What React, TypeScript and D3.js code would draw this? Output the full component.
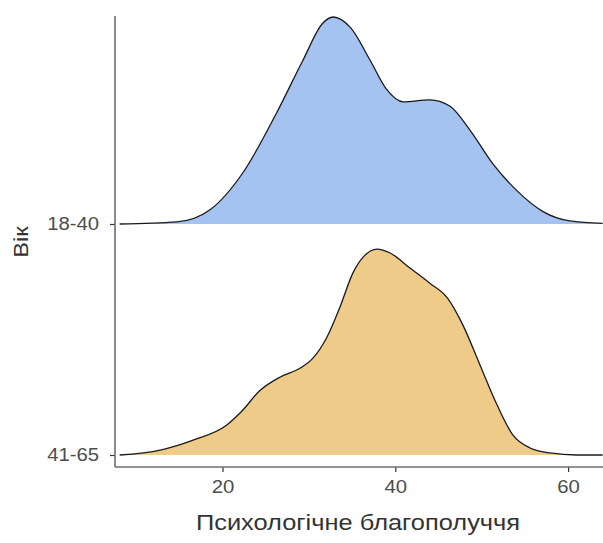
import { useRef, useEffect } from 'react';
import * as d3 from 'd3';

// x values (Психологічне благополуччя) and relative ridge heights
const youngX = [8.1, 14.7, 18.6, 22.4, 26.3, 29.3, 31.6, 32.8, 34.8, 37.1, 39.0, 40.9, 44.0, 46.3, 48.7, 51.3, 54.1, 57.1, 60.2, 64.0];
const youngY = [0, 0.01, 0.07, 0.25, 0.54, 0.79, 0.97, 1.0, 0.95, 0.79, 0.65, 0.59, 0.6, 0.57, 0.45, 0.29, 0.16, 0.06, 0.015, 0.003];

const olderX = [8.1, 12.8, 16.6, 20.5, 22.2, 24.3, 26.7, 29.0, 30.5, 32.1, 33.6, 35.1, 36.3, 37.9, 39.4, 41.7, 44.0, 46.0, 47.8, 49.8, 51.8, 53.6, 55.6, 57.9, 61.0, 64.0];
const olderY = [0, 0.024, 0.072, 0.145, 0.21, 0.31, 0.377, 0.42, 0.469, 0.57, 0.715, 0.88, 0.957, 0.995, 0.976, 0.903, 0.83, 0.76, 0.63, 0.435, 0.24, 0.097, 0.034, 0.01, 0, 0];

const groups = ['18-40', '41-65'];
const fills = ['#a4c3f0', '#efcb8a'];
const xTicks = [20, 40, 60];

const FONT = '"Liberation Sans", Arial, sans-serif';
const STRETCH = 1.13; // the reference text is a little wider than Liberation Sans

const App = () => {
  const svgRef = useRef<SVGSVGElement>(null);

  useEffect(() => {
    const width = 603;
    const height = 543;
    const svg = d3.select(svgRef.current)
      .attr('width', width)
      .attr('height', height)
      .style('position', 'absolute')
      .style('left', 0)
      .style('top', 0)
      .style('font-family', FONT);

    svg.selectAll('*').remove();

    const left = 115;
    const right = 603;
    const top = 16;
    const bottom = 467;

    const x = d3.scaleLinear().domain([7.56, 64.04]).range([left, right]);

    // baselines of the ridges
    const yBand = d3.scalePoint<string>().domain(groups).range([224, 455]);
    const h = d3.scaleLinear().domain([0, 1]).range([0, 207]);

    const series = [
      { key: groups[0], xs: youngX, ys: youngY, fill: fills[0] },
      { key: groups[1], xs: olderX, ys: olderY, fill: fills[1] },
    ];

    series.forEach(s => {
      const base = yBand(s.key) as number;
      const pts = s.xs.map((v, i) => [v, s.ys[i]] as [number, number]);

      const area = d3.area<[number, number]>()
        .x(d => x(d[0]))
        .y0(base)
        .y1(d => base - h(d[1]))
        .curve(d3.curveMonotoneX);

      const line = d3.line<[number, number]>()
        .x(d => x(d[0]))
        .y(d => base - h(d[1]))
        .curve(d3.curveMonotoneX);

      svg.append('path')
        .datum(pts)
        .attr('d', area)
        .attr('fill', s.fill);

      svg.append('path')
        .datum(pts)
        .attr('d', line)
        .attr('fill', 'none')
        .attr('stroke', '#1a1a1a')
        .attr('stroke-width', 1.3);
    });

    // x axis
    const xAxis = svg.append('g')
      .attr('transform', `translate(0,${bottom})`)
      .call(d3.axisBottom(x).tickValues(xTicks).tickSize(5).tickPadding(8));
    xAxis.select('.domain').remove();
    xAxis.selectAll('.tick line').attr('stroke', '#333').attr('stroke-width', 1.2);
    xAxis.selectAll('.tick text')
      .attr('fill', '#4d4d4d')
      .attr('transform', `scale(${STRETCH},1)`)
      .style('font-size', '18px')
      .style('font-family', FONT);

    // y axis
    const yAxis = svg.append('g')
      .attr('transform', `translate(${left},0)`)
      .call(d3.axisLeft(yBand).tickSize(5).tickPadding(9));
    yAxis.select('.domain').remove();
    yAxis.selectAll('.tick line').attr('stroke', '#333').attr('stroke-width', 1.2);
    yAxis.selectAll('.tick text')
      .attr('fill', '#4d4d4d')
      .attr('transform', `scale(${STRETCH},1)`)
      .style('font-size', '18px')
      .style('font-family', FONT);

    // axis lines
    svg.append('line')
      .attr('x1', left).attr('x2', left)
      .attr('y1', top).attr('y2', bottom)
      .attr('stroke', '#6e6e6e').attr('stroke-width', 1.6);
    svg.append('line')
      .attr('x1', left).attr('x2', right)
      .attr('y1', bottom).attr('y2', bottom)
      .attr('stroke', '#6e6e6e').attr('stroke-width', 1.6);

    // titles
    svg.append('text')
      .attr('transform', `translate(${(193 + 523) / 2},530) scale(${STRETCH},1)`)
      .attr('text-anchor', 'middle')
      .attr('fill', '#333')
      .style('font-size', '22.5px')
      .text('Психологічне благополуччя');

    svg.append('text')
      .attr('transform', `translate(28,242) rotate(-90) scale(${STRETCH},1)`)
      .attr('text-anchor', 'middle')
      .attr('fill', '#333')
      .style('font-size', '21px')
      .text('Вік');
  }, []);

  return <svg ref={svgRef}></svg>;
};

export default App;
